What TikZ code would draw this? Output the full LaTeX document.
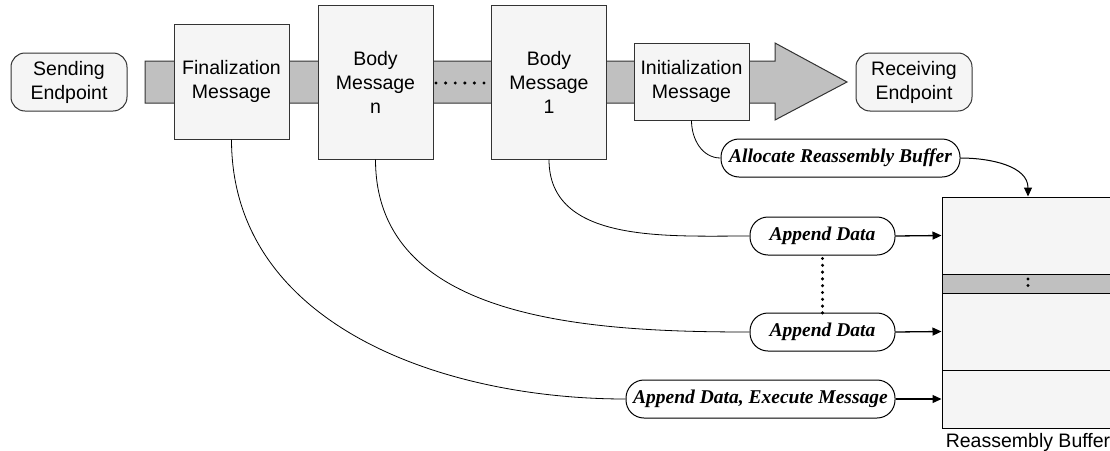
\documentclass[tikz,border=0pt]{standalone}
\usepackage{fontspec}
\setmainfont{Liberation Sans}
\newfontfamily\opfont{Liberation Serif}
\usepackage{tikz}
\usetikzlibrary{arrows.meta}
\definecolor{light}{RGB}{245, 245, 245}
\definecolor{pipe}{RGB}{192, 192, 192}
\definecolor{edge}{RGB}{51, 51, 51}
\tikzset{
  msgbox/.style={draw=edge, fill=light, line width=1pt, align=center,
                 inner sep=0pt, minimum width=115pt},
  endbox/.style={draw=edge, fill=light, line width=1pt, align=center,
                 rounded corners=14pt, inner sep=0pt,
                 minimum width=116pt, minimum height=58pt},
  opbox/.style={draw=black, fill=white, line width=1pt, rounded corners=18pt,
                inner sep=0pt, minimum height=38pt,
                font=\opfont\bfseries\itshape\fontsize{19.5}{24}\selectfont},
  bufseg/.style={draw=black, fill=light, line width=1pt, inner sep=0pt,
                 minimum width=172pt},
  flow/.style={draw=black, line width=0.8pt},
  feed/.style={draw=black, line width=1.3pt,
               -{Triangle[length=9pt, width=8pt]}},
  dots/.style={line width=3.4pt, line cap=round,
               dash pattern=on 0pt off #1}
}

\begin{document}
\begin{tikzpicture}[x=1pt, y=-1pt, font=\fontsize{19.5}{24}\selectfont]
  \useasboundingbox (0, 0) rectangle (1110, 450);

  % Pipe
  \fill[pipe, draw=edge, line width=1pt]
    (145, 61) -- (775, 61) -- (775, 43) -- (847, 82)
    -- (775, 120) -- (775, 103) -- (145, 103) -- cycle;
  \draw[dots=9.6pt] (436, 83) -- (484, 83);

  % Endpoints
  \node[endbox] (send) at (69, 82) {Sending\\Endpoint};
  \node[endbox] (recv) at (914, 82) {Receiving\\Endpoint};

  % Messages
  \node[msgbox, minimum height=115pt] (fin) at (231.5, 81.5)
    {Finalization\\Message};
  \node[msgbox, minimum height=154pt] (bodyn) at (375.5, 82)
    {Body\\Message\\n};
  \node[msgbox, minimum height=154pt] (bodyone) at (549, 82)
    {Body\\Message\\1};
  \node[msgbox, minimum height=77pt] (init) at (691.5, 81.5)
    {Initialization\\Message};

  % Operations
  \node[opbox, minimum width=239pt] (alloc) at (840.5, 158)
    {Allocate Reassembly Buffer};
  \node[opbox, minimum width=145pt] (adone) at (822.5, 236) {Append Data};
  \node[opbox, minimum width=145pt] (adn) at (822.5, 332) {Append Data};
  \node[opbox, minimum width=269pt] (adexec) at (760.5, 399)
    {Append Data, Execute Message};
  \draw[dots=6.8pt] (adone.south) ++(0, 3) -- ([yshift=-4pt]adn.north);

  % Reassembly buffer
  \node[bufseg, minimum height=77pt] (segone) at (1028, 235.5) {};
  \node[bufseg, fill=pipe, minimum height=19pt] (seggap) at (1028, 283.5) {};
  \node[bufseg, minimum height=77pt] (segn) at (1028, 331.5) {};
  \node[bufseg, minimum height=58pt] (segexec) at (1028, 399) {};
  \draw[dots=6.5pt] (1028, 279) -- (1028, 289);
  \node[below=1pt] (buflabel) at (segexec.south) {Reassembly Buffer};

  % Connectors
  \draw[flow] (init.south) to[out=-90, in=180] (alloc.west);
  \draw[flow] (bodyone.south) to[out=-90, in=180] (adone.west);
  \draw[flow] (bodyn.south) to[out=-90, in=180] (adn.west);
  \draw[flow] (fin.south) to[out=-90, in=180] (adexec.west);

  \draw[feed, line width=1pt] (alloc.east) to[out=0, in=90] (segone.north);
  \draw[feed] (adone.east) -- (segone.west);
  \draw[feed] (adn.east) -- (segn.west);
  \draw[feed] (adexec.east) -- (segexec.west);
\end{tikzpicture}
\end{document}
